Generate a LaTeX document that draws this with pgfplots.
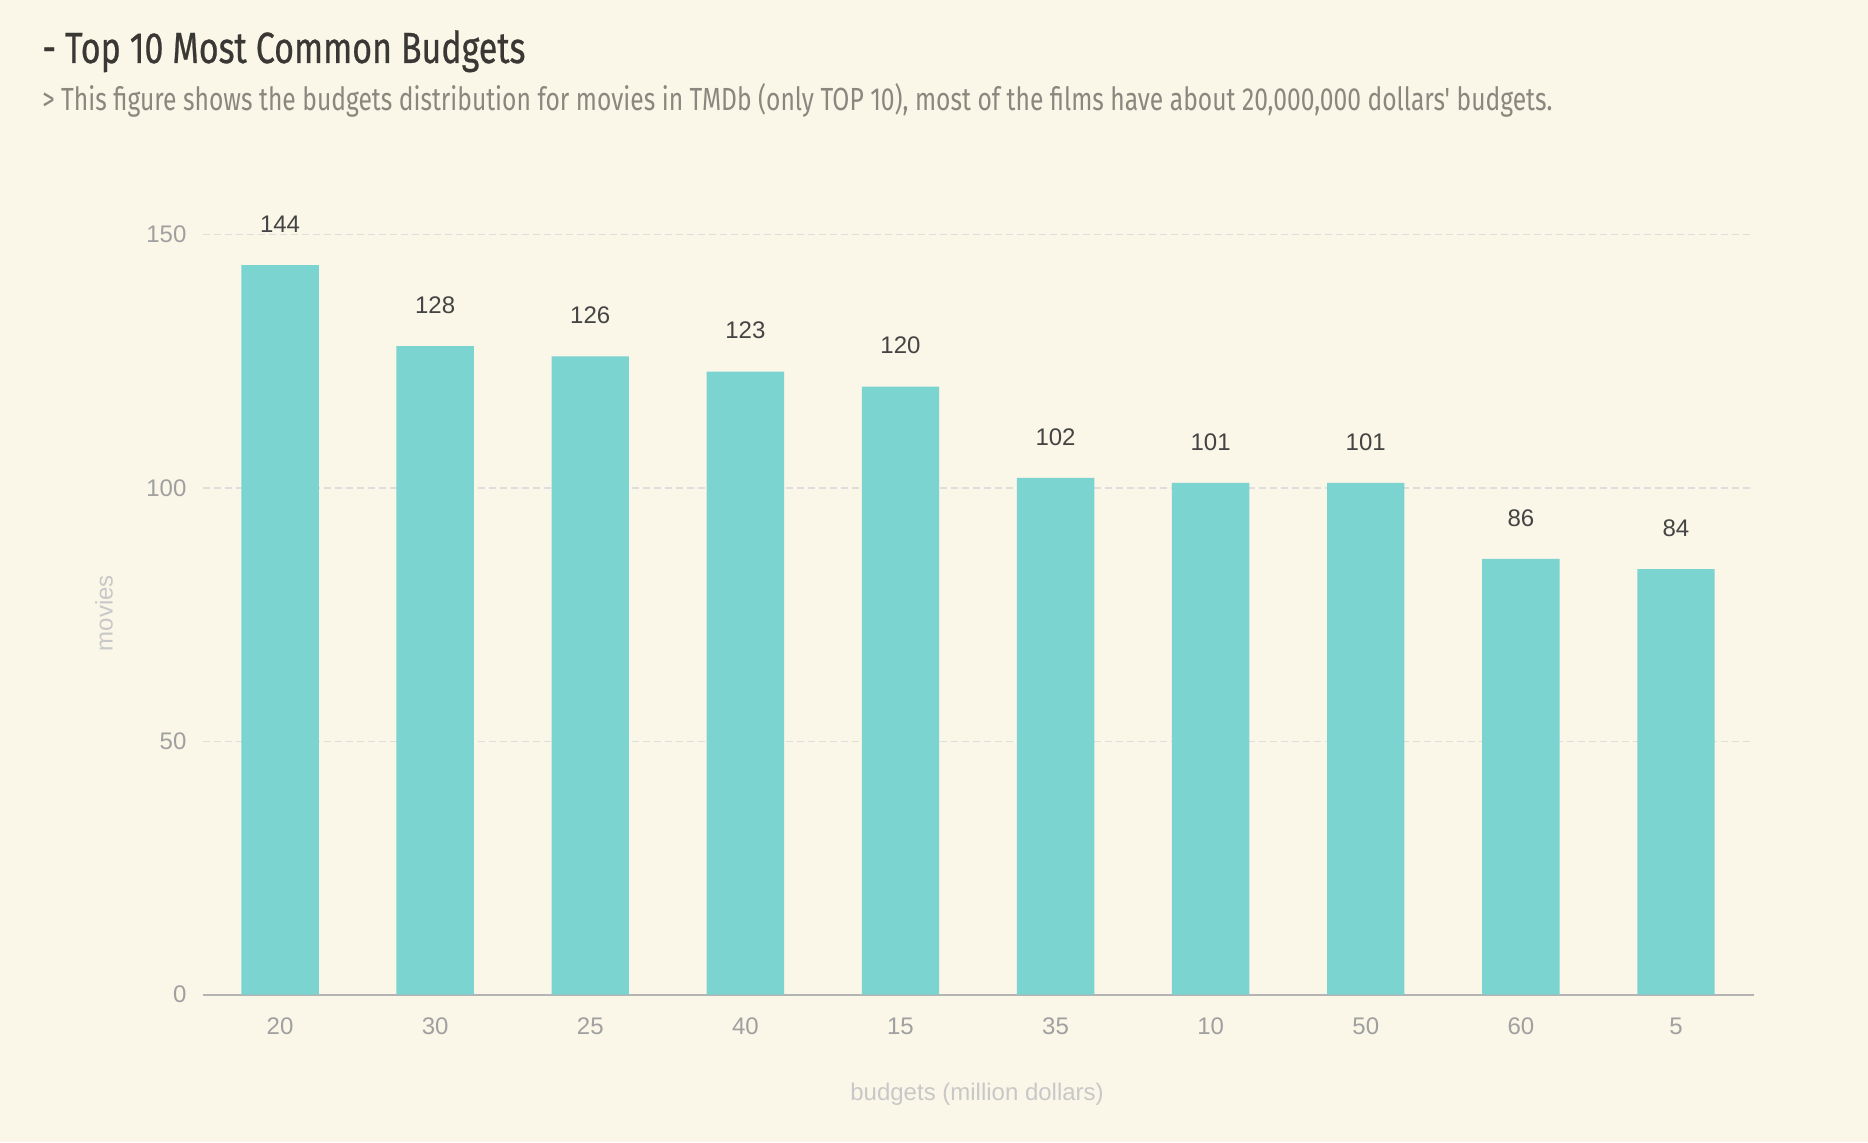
\documentclass[border=0pt]{standalone}
\usepackage{pgfplots}
\pgfplotsset{compat=1.18}
\usepackage{fontspec}
\usepackage{graphicx}
\setmainfont{Liberation Sans}
\newfontfamily\titlefont{Fira Sans}
\newfontfamily\titleheavy{Fira Sans}[FakeBold=0.7]
\definecolor{bg}{RGB}{250,246,232}
\definecolor{barcol}{RGB}{123,212,208}
\definecolor{titlecol}{RGB}{58,56,52}
\definecolor{subcol}{RGB}{138,136,126}
\definecolor{tickcol}{RGB}{160,160,160}
\definecolor{labelcol}{RGB}{200,200,200}
\definecolor{valcol}{RGB}{68,68,68}
\definecolor{gridcol}{RGB}{222,222,220}
\definecolor{axiscol}{RGB}{180,180,180}
\begin{document}
\begin{tikzpicture}[x=1pt,y=1pt]
\fill[bg] (0,0) rectangle (934,571);
\node[anchor=base west, inner sep=0, text=titlecol] at (21,539.5) {\resizebox{241.5pt}{\height}{\titleheavy\fontsize{21.8}{26}\selectfont - Top 10 Most Common Budgets}};
\node[anchor=base west, inner sep=0, text=subcol] at (21,515.5) {\resizebox{755pt}{\height}{\titlefont\fontsize{16}{19}\selectfont > This figure shows the budgets distribution for movies in TMDb (only TOP 10), most of the films have about 20,000,000 dollars{\char"27} budgets.}};
\begin{axis}[
  at={(101.25pt,73.65pt)}, anchor=south west,
  scale only axis, width=775.5pt, height=380pt,
  ybar, bar width=38.7pt,
  xmin=-0.5, xmax=9.5, ymin=0, ymax=150,
  xtick=data, xticklabels={20,30,25,40,15,35,10,50,60,5},
  ytick={0,50,100,150},
  /pgf/number format/assume math mode=true,
  axis x line*=bottom, axis y line*=left,
  x axis line style={-, draw=axiscol, line width=1pt},
  y axis line style={draw=none},
  major tick length=0pt,
  ymajorgrids, grid style={draw=gridcol, line width=0.6pt, dash pattern=on 3.5pt off 2pt},
  tick label style={font=\fontsize{12}{14}\selectfont, text=tickcol},
  xticklabel style={anchor=center, yshift=-16pt},
  yticklabel style={anchor=east, xshift=-4.5pt},
  xlabel={budgets (million dollars)},
  ylabel={movies},
  label style={font=\fontsize{12}{14}\selectfont, text=labelcol},
  xlabel style={at={(axis description cs:0.4994,-0.131)}, anchor=center},
  ylabel style={at={(axis description cs:-0.0635,0.502)}, anchor=center, rotate=0},
  nodes near coords,
  nodes near coords style={font=\fontsize{12}{14}\selectfont, text=valcol, anchor=center, yshift=20.5pt},
]
\addplot[fill=barcol, draw=none] coordinates {(0,144) (1,128) (2,126) (3,123) (4,120) (5,102) (6,101) (7,101) (8,86) (9,84)};
\end{axis}
\end{tikzpicture}
\end{document}
